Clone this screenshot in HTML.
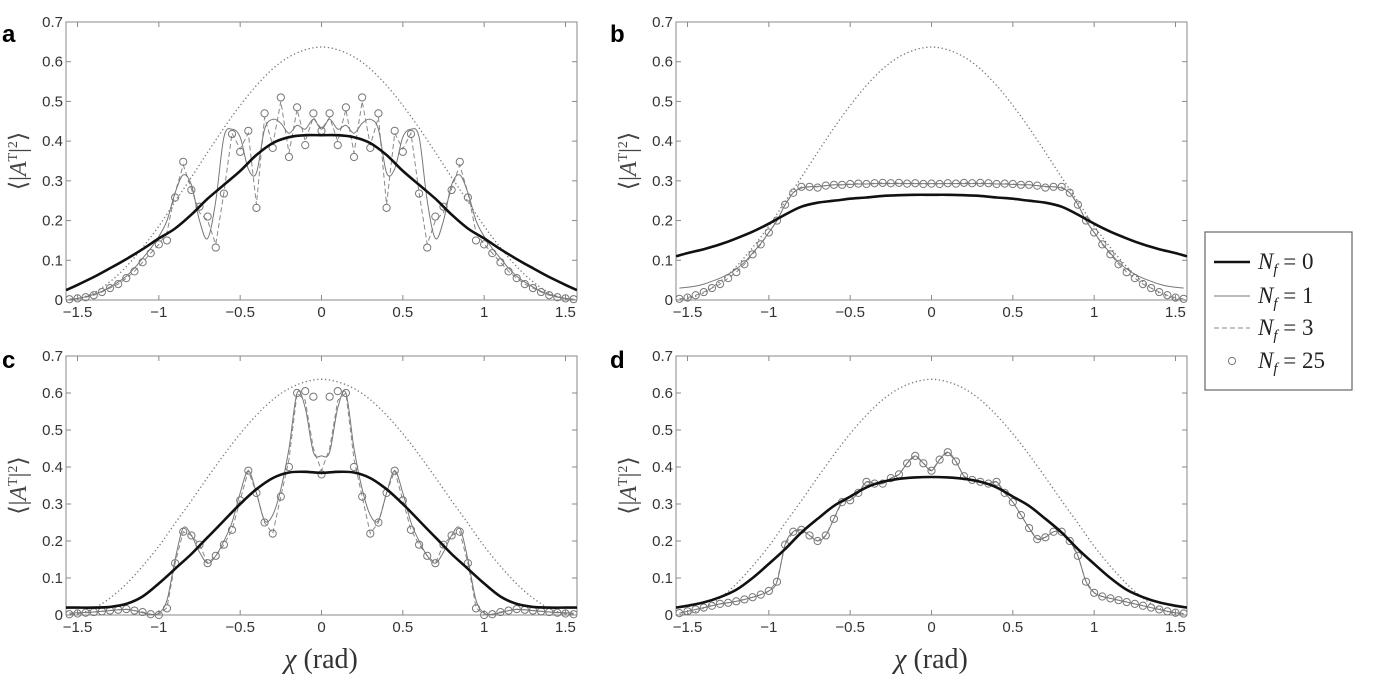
<!DOCTYPE html>
<html><head><meta charset="utf-8"><style>
body{margin:0;background:#fff;width:1400px;height:676px;overflow:hidden}
svg text{font-family:"Liberation Sans",sans-serif}
svg text.serif{font-family:"Liberation Serif",serif}
</style></head><body>
<svg id="fig" width="1400" height="676" viewBox="0 0 1400 676"></svg>
<script>
// ---- data ----
const xTicks=[-1.5,-1,-0.5,0,0.5,1,1.5];
const xTickLabels=["\u22121.5","\u22121","\u22120.5","0","0.5","1","1.5"];
const yTicks=[0,0.1,0.2,0.3,0.4,0.5,0.6,0.7];
const yTickLabels=["0","0.1","0.2","0.3","0.4","0.5","0.6","0.7"];
const xSmooth=[-1.5708,-1.5,-1.4,-1.3,-1.2,-1.1,-1.0,-0.9,-0.8,-0.7,-0.6,-0.5,-0.4,-0.3,-0.2,-0.1,0,0.1,0.2,0.3,0.4,0.5,0.6,0.7,0.8,0.9,1.0,1.1,1.2,1.3,1.4,1.5,1.5708];
const xFine=[-1.55,-1.5,-1.45,-1.4,-1.35,-1.3,-1.25,-1.2,-1.15,-1.1,-1.05,-1.0,-0.95,-0.9,-0.85,-0.8,-0.75,-0.7,-0.65,-0.6,-0.55,-0.5,-0.45,-0.4,-0.35,-0.3,-0.25,-0.2,-0.15,-0.1,-0.05,0,0.05,0.1,0.15,0.2,0.25,0.3,0.35,0.4,0.45,0.5,0.55,0.6,0.65,0.7,0.75,0.8,0.85,0.9,0.95,1.0,1.05,1.1,1.15,1.2,1.25,1.3,1.35,1.4,1.45,1.5,1.55];
const dottedRef=[0,0.003,0.018,0.046,0.084,0.132,0.186,0.248,0.309,0.372,0.433,0.49,0.54,0.582,0.612,0.630,0.637,0.630,0.612,0.582,0.54,0.49,0.433,0.372,0.309,0.248,0.186,0.132,0.084,0.046,0.018,0.003,0];
const aNf0=[0.025,0.038,0.058,0.08,0.103,0.128,0.155,0.18,0.215,0.255,0.29,0.325,0.365,0.395,0.41,0.415,0.415,0.415,0.41,0.395,0.365,0.325,0.29,0.255,0.215,0.18,0.155,0.128,0.103,0.08,0.058,0.038,0.025];
const aNf1=[0.002,0.004,0.008,0.014,0.022,0.033,0.045,0.06,0.08,0.105,0.13,0.16,0.2,0.27,0.315,0.29,0.2,0.155,0.25,0.41,0.43,0.41,0.33,0.32,0.43,0.455,0.445,0.42,0.44,0.43,0.455,0.43,0.455,0.43,0.44,0.42,0.445,0.455,0.43,0.32,0.33,0.41,0.43,0.41,0.25,0.155,0.2,0.29,0.315,0.27,0.2,0.16,0.13,0.105,0.08,0.06,0.045,0.033,0.022,0.014,0.008,0.004,0.002];
const aNf3=[0.002,0.004,0.007,0.012,0.02,0.03,0.04,0.055,0.072,0.095,0.118,0.14,0.17,0.27,0.34,0.28,0.22,0.2,0.14,0.27,0.42,0.38,0.42,0.24,0.46,0.39,0.5,0.37,0.48,0.40,0.46,0.43,0.46,0.40,0.48,0.37,0.5,0.39,0.46,0.24,0.42,0.38,0.42,0.27,0.14,0.2,0.22,0.28,0.34,0.27,0.17,0.14,0.118,0.095,0.072,0.055,0.04,0.03,0.02,0.012,0.007,0.004,0.002];
const aNf25=[0.002,0.004,0.007,0.012,0.02,0.03,0.04,0.055,0.072,0.095,0.118,0.14,0.15,0.258,0.348,0.277,0.235,0.21,0.132,0.268,0.418,0.373,0.426,0.232,0.47,0.383,0.51,0.36,0.485,0.39,0.47,0.426,0.47,0.39,0.485,0.36,0.51,0.383,0.47,0.232,0.426,0.373,0.418,0.268,0.132,0.21,0.235,0.277,0.348,0.258,0.15,0.14,0.118,0.095,0.072,0.055,0.04,0.03,0.02,0.012,0.007,0.004,0.002];
const bNf0=[0.11,0.118,0.128,0.14,0.155,0.172,0.192,0.215,0.235,0.245,0.25,0.255,0.258,0.262,0.264,0.265,0.265,0.265,0.264,0.262,0.258,0.255,0.25,0.245,0.235,0.215,0.192,0.172,0.155,0.14,0.128,0.118,0.11];
const bNf1=[0.03,0.032,0.035,0.04,0.047,0.055,0.065,0.078,0.095,0.118,0.142,0.17,0.2,0.24,0.27,0.282,0.285,0.286,0.288,0.29,0.29,0.291,0.292,0.292,0.293,0.293,0.293,0.293,0.293,0.293,0.293,0.293,0.293,0.293,0.293,0.293,0.293,0.293,0.293,0.292,0.292,0.291,0.29,0.29,0.288,0.286,0.285,0.282,0.27,0.24,0.2,0.17,0.142,0.118,0.095,0.078,0.065,0.055,0.047,0.04,0.035,0.032,0.03];
const bNf3=[0.003,0.006,0.012,0.02,0.03,0.04,0.055,0.07,0.09,0.115,0.14,0.17,0.2,0.24,0.27,0.285,0.285,0.285,0.288,0.29,0.29,0.292,0.293,0.292,0.294,0.295,0.294,0.295,0.293,0.294,0.292,0.293,0.292,0.294,0.293,0.295,0.294,0.295,0.294,0.292,0.293,0.292,0.29,0.29,0.288,0.285,0.285,0.285,0.27,0.24,0.2,0.17,0.14,0.115,0.09,0.07,0.055,0.04,0.03,0.02,0.012,0.006,0.003];
const bNf25=[0.003,0.006,0.012,0.02,0.03,0.04,0.055,0.07,0.09,0.115,0.14,0.17,0.2,0.24,0.27,0.285,0.285,0.283,0.288,0.29,0.29,0.292,0.293,0.292,0.294,0.295,0.294,0.295,0.293,0.294,0.292,0.293,0.292,0.294,0.293,0.295,0.294,0.295,0.294,0.292,0.293,0.292,0.29,0.29,0.288,0.283,0.285,0.285,0.27,0.24,0.2,0.17,0.14,0.115,0.09,0.07,0.055,0.04,0.03,0.02,0.012,0.006,0.003];
const cNf0=[0.02,0.02,0.02,0.022,0.03,0.05,0.085,0.125,0.165,0.21,0.255,0.3,0.34,0.37,0.385,0.387,0.384,0.387,0.385,0.37,0.34,0.3,0.255,0.21,0.165,0.125,0.085,0.05,0.03,0.022,0.02,0.02,0.02];
const cNf1=[0.005,0.006,0.007,0.008,0.01,0.012,0.014,0.015,0.012,0.006,0.002,0.005,0.04,0.15,0.235,0.215,0.17,0.14,0.16,0.2,0.25,0.33,0.39,0.33,0.255,0.27,0.34,0.45,0.6,0.56,0.44,0.43,0.44,0.56,0.6,0.45,0.34,0.27,0.255,0.33,0.39,0.33,0.25,0.2,0.16,0.14,0.17,0.215,0.235,0.15,0.04,0.005,0.002,0.006,0.012,0.015,0.014,0.012,0.01,0.008,0.007,0.006,0.005];
const cNf3=[0.002,0.004,0.006,0.008,0.01,0.012,0.014,0.016,0.012,0.008,0.002,0.0,0.02,0.14,0.225,0.215,0.19,0.14,0.16,0.19,0.23,0.31,0.39,0.33,0.25,0.22,0.32,0.42,0.6,0.58,0.45,0.39,0.45,0.58,0.6,0.42,0.32,0.22,0.25,0.33,0.39,0.31,0.23,0.19,0.16,0.14,0.19,0.215,0.225,0.14,0.02,0.0,0.002,0.008,0.012,0.016,0.014,0.012,0.01,0.008,0.006,0.004,0.002];
const cNf25=[0.002,0.004,0.006,0.008,0.01,0.012,0.014,0.016,0.012,0.008,0.002,0.0,0.018,0.14,0.225,0.215,0.19,0.14,0.16,0.19,0.23,0.31,0.39,0.33,0.25,0.22,0.32,0.4,0.6,0.605,0.59,0.38,0.59,0.605,0.6,0.4,0.32,0.22,0.25,0.33,0.39,0.31,0.23,0.19,0.16,0.14,0.19,0.215,0.225,0.14,0.018,0.0,0.002,0.008,0.012,0.016,0.014,0.012,0.01,0.008,0.006,0.004,0.002];
const dNf0=[0.02,0.025,0.034,0.048,0.068,0.1,0.138,0.178,0.223,0.26,0.295,0.32,0.345,0.36,0.368,0.372,0.373,0.372,0.368,0.36,0.345,0.32,0.295,0.26,0.223,0.178,0.138,0.1,0.068,0.048,0.034,0.025,0.02];
const dNf25=[0.005,0.01,0.015,0.02,0.025,0.03,0.033,0.037,0.042,0.048,0.055,0.065,0.09,0.19,0.225,0.23,0.215,0.2,0.215,0.26,0.305,0.31,0.33,0.36,0.355,0.355,0.37,0.38,0.41,0.43,0.41,0.39,0.42,0.44,0.415,0.375,0.365,0.36,0.355,0.36,0.33,0.305,0.27,0.235,0.205,0.21,0.225,0.225,0.2,0.16,0.09,0.06,0.05,0.045,0.04,0.035,0.03,0.025,0.02,0.015,0.01,0.006,0.004];
const dNf1=dNf25.slice();
const dNf3=dNf25.slice();

const panels=[
 {id:'a',L:66,R:577,T:22,B:300,nf0:aNf0,nf1:aNf1,nf3:aNf3,nf25:aNf25,lx:2,ly:42},
 {id:'b',L:676,R:1187,T:22,B:300,nf0:bNf0,nf1:bNf1,nf3:bNf3,nf25:bNf25,lx:610,ly:42},
 {id:'c',L:66,R:577,T:356,B:615,nf0:cNf0,nf1:cNf1,nf3:cNf3,nf25:cNf25,lx:2,ly:368},
 {id:'d',L:676,R:1187,T:356,B:615,nf0:dNf0,nf1:dNf1,nf3:dNf3,nf25:dNf25,lx:610,ly:368}
];
const NS='http://www.w3.org/2000/svg';
const svg=document.getElementById('fig');
function mk(tag,attrs,parent){const e=document.createElementNS(NS,tag);for(const k in attrs)e.setAttribute(k,attrs[k]);(parent||svg).appendChild(e);return e;}
function smoothPath(pts){let d='M'+pts[0][0].toFixed(1)+','+pts[0][1].toFixed(1);
 for(let i=0;i<pts.length-1;i++){const p0=pts[Math.max(0,i-1)],p1=pts[i],p2=pts[i+1],p3=pts[Math.min(pts.length-1,i+2)];
  const c1=[p1[0]+(p2[0]-p0[0])/6,p1[1]+(p2[1]-p0[1])/6],c2=[p2[0]-(p3[0]-p1[0])/6,p2[1]-(p3[1]-p1[1])/6];
  d+=' C'+c1[0].toFixed(1)+','+c1[1].toFixed(1)+' '+c2[0].toFixed(1)+','+c2[1].toFixed(1)+' '+p2[0].toFixed(1)+','+p2[1].toFixed(1);}
 return d;}
panels.forEach(p=>{
 const g=mk('g',{});
 
 
 const sx=v=>p.L+(v+Math.PI/2)/Math.PI*(p.R-p.L);
 const sy=v=>p.B-v/0.7*(p.B-p.T);
 const cid='clip'+p.id;
 const cp=mk('clipPath',{id:cid},g);mk('rect',{x:p.L,y:p.T-2,width:p.R-p.L,height:p.B-p.T+8},cp);
 const fr=mk('rect',{x:p.L,y:p.T,width:p.R-p.L,height:p.B-p.T,fill:'none',stroke:'#8a8a8a','stroke-width':1},g);
 
 
 xTicks.forEach((t,i)=>{const x=sx(t);
  mk('line',{x1:x,y1:p.B,x2:x,y2:p.B-5,stroke:'#8a8a8a'},g);mk('line',{x1:x,y1:p.T,x2:x,y2:p.T+5,stroke:'#8a8a8a'},g);
  const tx=mk('text',{x:x,y:p.B+17,'font-size':15,'text-anchor':'middle',fill:'#333'},g);tx.textContent=xTickLabels[i];
  
  });
 yTicks.forEach((t,i)=>{const y=sy(t);
  mk('line',{x1:p.L,y1:y,x2:p.L+5,y2:y,stroke:'#8a8a8a'},g);mk('line',{x1:p.R,y1:y,x2:p.R-5,y2:y,stroke:'#8a8a8a'},g);
  const tx=mk('text',{x:p.L-3,y:y+5,'font-size':15,'text-anchor':'end',fill:'#333'},g);tx.textContent=yTickLabels[i];
  
  });
 const yt=mk('text',{class:'serif',x:0,y:0,'font-size':24,'text-anchor':'middle',fill:'#444',transform:`translate(${p.L-40},${(p.T+p.B)/2}) rotate(-90)`},g);
 yt.innerHTML='\u27E8|<tspan font-style="italic">A</tspan><tspan font-size="14" dy="-9">T</tspan><tspan dy="9">|</tspan><tspan font-size="14" dy="-9">2</tspan><tspan dy="9">\u27E9</tspan>';
 
 
 const lt=mk('text',{x:p.lx,y:p.ly,'font-size':24,'font-weight':'bold',fill:'#000'},g);lt.textContent=p.id;
 
 
 const dg=mk('g',{'clip-path':`url(#${cid})`},g);
 const dot=mk('path',{d:smoothPath(xSmooth.map((x,i)=>[sx(x),sy(dottedRef[i])])),fill:'none',stroke:'#777','stroke-width':1.3,'stroke-dasharray':'1.3,2.6'},dg);
 
 
 const l3=mk('polyline',{points:xFine.map((x,i)=>sx(x)+','+sy(p.nf3[i])).join(' '),fill:'none',stroke:'#888','stroke-width':1,'stroke-dasharray':'5,3'},dg);
 
 
 const l1=mk('path',{d:smoothPath(xFine.map((x,i)=>[sx(x),sy(p.nf1[i])])),fill:'none',stroke:'#777','stroke-width':1},dg);
 
 
 xFine.forEach((x,i)=>{const c=mk('circle',{cx:sx(x),cy:sy(p.nf25[i]),r:3.6,fill:'none',stroke:'#777','stroke-width':1},dg);
  
  });
 const l0=mk('path',{d:smoothPath(xSmooth.map((x,i)=>[sx(x),sy(p.nf0[i])])),fill:'none',stroke:'#111','stroke-width':2.6},dg);
 
 
});
[[321,'x-axis-title-left'],[931,'x-axis-title-right']].forEach(([x,n])=>{
 const t=mk('text',{class:'serif',x:x,y:668,'font-size':28,'text-anchor':'middle',fill:'#333'});
 t.innerHTML='<tspan font-style="italic">\u03C7</tspan> (rad)';
 
 });
// legend
const lg=mk('g',{});


mk('rect',{x:1205,y:232,width:147,height:158,fill:'#fff',stroke:'#666','stroke-width':1.2},lg);
const legLabels=['0','1','3','25'];
const legY=[262,296,328,361];
legLabels.forEach((lab,i)=>{const y=legY[i];
 if(i===0)mk('line',{x1:1214,y1:y,x2:1250,y2:y,stroke:'#111','stroke-width':2.6},lg);
 if(i===1)mk('line',{x1:1214,y1:y,x2:1250,y2:y,stroke:'#777','stroke-width':1},lg);
 if(i===2)mk('line',{x1:1214,y1:y,x2:1250,y2:y,stroke:'#888','stroke-width':1,'stroke-dasharray':'5,3'},lg);
 if(i===3)mk('circle',{cx:1232,cy:y,r:3.6,fill:'none',stroke:'#777'},lg);
 const t=mk('text',{class:'serif',x:1258,y:y+7,'font-size':23,fill:'#222'},lg);
 t.innerHTML='<tspan font-style="italic">N</tspan><tspan font-style="italic" font-size="15" dy="5">f</tspan><tspan dy="-5"> = '+lab+'</tspan>';
 
 });
</script>
</body></html>
